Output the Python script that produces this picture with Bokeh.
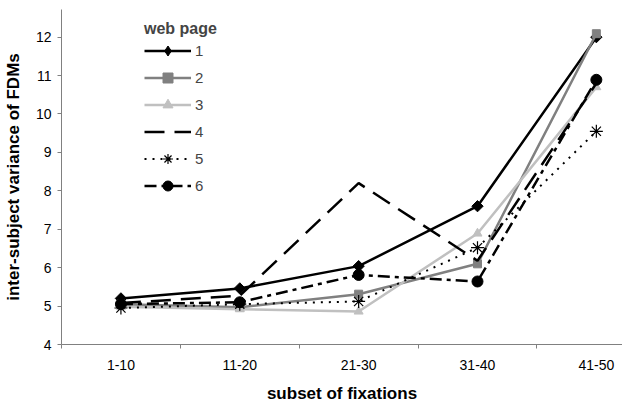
import math
from bokeh.plotting import figure
from bokeh.models import Range1d, FixedTicker, Legend, LegendItem
from bokeh.embed import file_html
from bokeh.resources import INLINE

categories = ["1-10", "11-20", "21-30", "31-40", "41-50"]
series_names = ["1", "2", "3", "4", "5", "6"]
s1 = [5.20, 5.46, 6.04, 7.60, 12.00]
s2 = [5.05, 4.97, 5.31, 6.10, 12.09]
s3 = [4.98, 4.92, 4.86, 6.89, 10.70]
s4 = [5.08, 5.27, 8.20, 6.18, 10.80]
s5 = [4.95, 5.05, 5.12, 6.52, 9.55]
s6 = [5.05, 5.10, 5.81, 5.64, 10.89]
y_ticks = [4, 5, 6, 7, 8, 9, 10, 11, 12]

xs = [i + 0.5 for i in range(len(categories))]
FONT = "Liberation Sans"

p = figure(width=622, height=405, output_backend="svg", toolbar_location=None,
           x_range=Range1d(0, 4.72), y_range=Range1d(4, 12.72),
           min_border_left=0, min_border_right=0, min_border_top=9, min_border_bottom=0)
p.outline_line_color = None
p.grid.visible = False
p.background_fill_color = "white"
p.border_fill_color = "white"

styles = [
    dict(data=s1, color="black", dash="solid", marker="square", angle=math.pi / 4, size=8,
         legend_marker="diamond", width=2.5),
    dict(data=s2, color="#808080", dash="solid", marker="square", angle=0, size=8,
         legend_marker=None, width=2.5),
    dict(data=s3, color="#c0c0c0", dash="solid", marker="triangle", angle=0, size=9,
         legend_marker=None, width=2.5),
    dict(data=s4, color="black", dash="20 10", marker=None, angle=0, size=0,
         legend_marker=None, width=2.5),
    dict(data=s5, color="black", dash="2 6", marker="asterisk", angle=0, size=13,
         legend_marker=None, width=2),
    dict(data=s6, color="black", dash="12 5 4 5", marker="circle", angle=0, size=11,
         legend_marker=None, width=2.5),
]

items = []
for name, st in zip(series_names, styles):
    rs = [p.line(xs, st["data"], line_color=st["color"], line_width=st["width"],
                 line_dash=st["dash"])]
    if st["marker"]:
        kw = dict(fill_color=st["color"], line_color=st["color"])
        if st["marker"] == "asterisk":
            kw = dict(line_color="black", line_width=1.2)
        r = p.scatter(xs, st["data"], marker=st["marker"], size=st["size"],
                      angle=st["angle"], **kw)
        if st["legend_marker"]:
            # legend-only glyph (the legend does not draw marker angles)
            lr = p.scatter(xs, st["data"], marker=st["legend_marker"], size=st["size"], **kw)
            lr.visible = False
            rs.append(lr)
        else:
            rs.append(r)
    items.append(LegendItem(label=name, renderers=rs))

legend = Legend(items=items, location=(83, 146), title="web page",
                title_text_font=FONT, title_text_font_style="bold",
                title_text_font_size="16px", title_standoff=0,
                label_text_font=FONT, label_text_font_size="15px",
                glyph_width=47, glyph_height=25, label_height=20, spacing=2,
                label_standoff=4, padding=0, margin=0,
                inactive_fill_alpha=0,
                border_line_color=None, background_fill_alpha=0)
p.add_layout(legend)

xa = p.xaxis[0]
xa.ticker = FixedTicker(ticks=xs, minor_ticks=[0, 1, 2, 3, 4, 5])
xa.major_label_overrides = {x: c for x, c in zip(xs, categories)}
xa.major_tick_out = 0
xa.major_tick_in = 0
xa.minor_tick_out = 4
xa.minor_tick_in = 0
xa.minor_tick_line_color = "#808080"
xa.axis_line_color = "#808080"
xa.major_label_standoff = 11
xa.major_label_text_font = FONT
xa.major_label_text_font_size = "14px"
xa.major_label_text_color = "black"
xa.axis_label = "subset of fixations"
xa.axis_label_text_font = FONT
xa.axis_label_text_font_style = "bold"
xa.axis_label_text_font_size = "17px"
xa.axis_label_text_color = "black"
xa.axis_label_standoff = 11

ya = p.yaxis[0]
ya.ticker = FixedTicker(ticks=y_ticks, minor_ticks=[])
ya.major_tick_out = 4
ya.major_tick_in = 0
ya.major_tick_line_color = "#808080"
ya.axis_line_color = "#808080"
ya.major_label_standoff = 6
ya.major_label_text_font = FONT
ya.major_label_text_font_size = "14px"
ya.major_label_text_color = "black"
ya.axis_label = "inter-subject variance of FDMs"
ya.axis_label_text_font = FONT
ya.axis_label_text_font_style = "bold"
ya.axis_label_text_font_size = "17px"
ya.axis_label_text_color = "black"
ya.axis_label_standoff = 10

open("out.html", "w").write(file_html(p, INLINE))
